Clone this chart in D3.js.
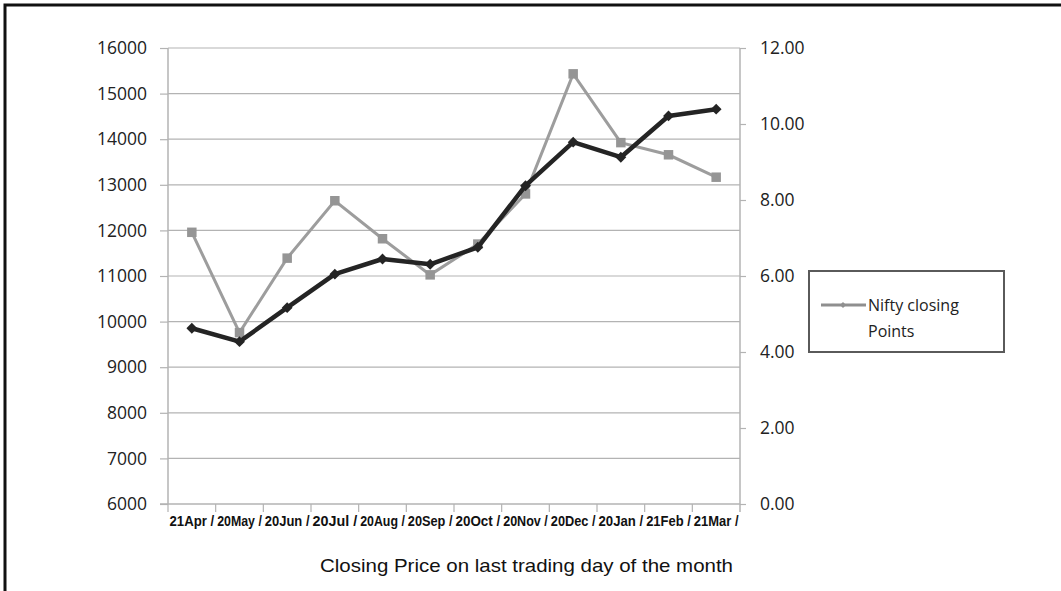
<!DOCTYPE html>
<html>
<head>
<meta charset="utf-8">
<script src="https://cdn.jsdelivr.net/npm/d3@7"></script>
<style>
  body { margin: 0; background: #fff; }
  svg { display: block; }
  .tick-num { font-family: "Open Sans", "Noto Sans", sans-serif; font-size: 17.5px; fill: #222; }
  .cat { font-family: "Liberation Sans Narrow", "Liberation Sans", Arial, sans-serif; font-size: 14px; font-weight: bold; fill: #111; }
</style>
</head>
<body>
<svg id="chart" width="1061" height="591"></svg>
<script>
const months = ['21Apr /', '20May /', '20Jun /', '20Jul /', '20Aug /', '20Sep /',
  '20Oct /', '20Nov /', '20Dec /', '20Jan /', '21Feb /', '21Mar /'];
// black line, left axis
const niftyClose = [9855, 9560, 10305, 11040, 11373, 11257, 11630, 12980, 13935, 13605, 14510, 14658];
// grey line, right axis
const rightSeries = [7.15, 4.51, 6.47, 7.98, 6.98, 6.03, 6.84, 8.16, 11.32, 9.51, 9.19, 8.60];
const leftTicks = [6000, 7000, 8000, 9000, 10000, 11000, 12000, 13000, 14000, 15000, 16000];
const rightTicks = [0, 2, 4, 6, 8, 10, 12];
const legendLabel = ['Nifty closing', 'Points'];
const xTitle = 'Closing Price on last trading day of the month';

const svg = d3.select('#chart');
const L = 168, R = 740, T = 48, B = 504;

const x = d3.scaleBand().domain(months).range([L, R]);
const yL = d3.scaleLinear().domain([6000, 16000]).range([B, T]);
const yR = d3.scaleLinear().domain([0, 12]).range([B, T]);

// outer frame (only top and left visible)
svg.append('path')
  .attr('d', `M5,591 L5,5 L1061,5`)
  .attr('fill', 'none')
  .attr('stroke', '#111')
  .attr('stroke-width', 3);

// gridlines
svg.append('g').selectAll('line').data(leftTicks.slice(1)).join('line')
  .attr('x1', L).attr('x2', R)
  .attr('y1', d => yL(d)).attr('y2', d => yL(d))
  .attr('stroke', '#b3b3b3').attr('stroke-width', 1.2);

// left axis
const gL = svg.append('g').attr('transform', `translate(${L},0)`)
  .call(d3.axisLeft(yL).tickValues(leftTicks).tickFormat(d3.format('d')).tickSize(8).tickPadding(13));
gL.select('.domain').remove();
gL.selectAll('line').attr('stroke', '#b3b3b3').attr('stroke-width', 1.2);
gL.selectAll('text').attr('class', 'tick-num').attr('font-size', null).attr('font-family', null).attr('fill', null);
svg.append('line').attr('x1', L).attr('x2', L).attr('y1', T).attr('y2', B)
  .attr('stroke', '#b3b3b3').attr('stroke-width', 1.5);

// right axis
const gR = svg.append('g').attr('transform', `translate(${R},0)`)
  .call(d3.axisRight(yR).tickValues(rightTicks).tickFormat(d3.format('.2f')).tickSize(6).tickPadding(14));
gR.select('.domain').remove();
gR.selectAll('line').attr('stroke', '#b3b3b3').attr('stroke-width', 1.2);
gR.selectAll('text').attr('class', 'tick-num').attr('font-size', null).attr('font-family', null).attr('fill', null);
svg.append('line').attr('x1', R).attr('x2', R).attr('y1', T).attr('y2', B + 8)
  .attr('stroke', '#b3b3b3').attr('stroke-width', 1.5);

// category axis
svg.append('line').attr('x1', L - 8).attr('x2', R).attr('y1', B).attr('y2', B)
  .attr('stroke', '#b3b3b3').attr('stroke-width', 1.5);
svg.append('g').selectAll('line').data(months).join('line')
  .attr('x1', d => x(d)).attr('x2', d => x(d))
  .attr('y1', B).attr('y2', B + 8)
  .attr('stroke', '#b3b3b3').attr('stroke-width', 1.2);
svg.append('g').selectAll('text').data(months).join('text')
  .attr('class', 'cat')
  .attr('x', d => x(d) + 1.5)
  .attr('y', B + 22)
  .attr('textLength', x.bandwidth() - 3)
  .attr('lengthAdjust', 'spacingAndGlyphs')
  .text(d => d);

// grey series (right axis)
const lineR = d3.line().x((d, i) => x(months[i]) + x.bandwidth() / 2).y(d => yR(d));
svg.append('path').datum(rightSeries)
  .attr('d', lineR)
  .attr('fill', 'none').attr('stroke', '#9d9d9d').attr('stroke-width', 3);
svg.append('g').selectAll('path').data(rightSeries).join('path')
  .attr('d', d3.symbol(d3.symbolSquare, 90))
  .attr('transform', (d, i) => `translate(${x(months[i]) + x.bandwidth() / 2},${yR(d)})`)
  .attr('fill', '#959595');

// black series (left axis)
const lineL = d3.line().x((d, i) => x(months[i]) + x.bandwidth() / 2).y(d => yL(d));
svg.append('path').datum(niftyClose)
  .attr('d', lineL)
  .attr('fill', 'none').attr('stroke', '#242424').attr('stroke-width', 4.5)
  .attr('stroke-linejoin', 'round');
svg.append('g').selectAll('path').data(niftyClose).join('path')
  .attr('d', d3.symbol(d3.symbolDiamond2, 75))
  .attr('transform', (d, i) => `translate(${x(months[i]) + x.bandwidth() / 2},${yL(d)})`)
  .attr('fill', '#242424');

// legend
const lg = svg.append('g');
lg.append('rect').attr('x', 809).attr('y', 271).attr('width', 195).attr('height', 81)
  .attr('fill', '#fff').attr('stroke', '#5a5a5a').attr('stroke-width', 2);
lg.append('line').attr('x1', 821).attr('x2', 866).attr('y1', 305).attr('y2', 305)
  .attr('stroke', '#8f8f8f').attr('stroke-width', 3);
lg.append('path').attr('d', d3.symbol(d3.symbolDiamond2, 24))
  .attr('transform', 'translate(843,305)').attr('fill', '#8f8f8f');
lg.selectAll('text').data(legendLabel).join('text')
  .attr('x', 868).attr('y', (d, i) => 311 + i * 26)
  .attr('font-family', '"Open Sans", "Noto Sans", sans-serif')
  .attr('font-size', 16).attr('fill', '#222')
  .text(d => d);

// x title
svg.append('text')
  .attr('x', 320).attr('y', 572)
  .attr('textLength', 413)
  .attr('lengthAdjust', 'spacingAndGlyphs')
  .attr('font-family', '"Liberation Sans", Arial, sans-serif')
  .attr('font-size', 18.5).attr('fill', '#111')
  .text(xTitle);
</script>
</body>
</html>
